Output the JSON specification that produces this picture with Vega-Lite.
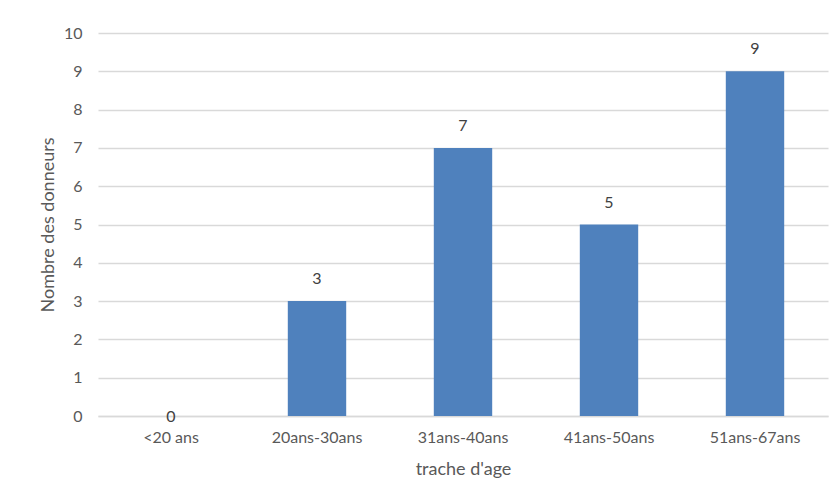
{
  "$schema": "https://vega.github.io/schema/vega-lite/v6.json",
  "autosize": {"type": "none"},
  "width": 730,
  "height": 383,
  "padding": {"left": 98, "top": 33, "right": 7, "bottom": 79},
  "background": "#ffffff",
  "config": {
    "font": "Lato",
    "view": {"stroke": null},
    "axis": {
      "labelFont": "Lato",
      "titleFont": "Lato",
      "labelColor": "#595959",
      "titleColor": "#595959",
      "labelFontSize": 16,
      "titleFontSize": 18,
      "titleFontWeight": "normal",
      "ticks": false
    }
  },
  "data": {
    "values": [
      {"tranche": "<20 ans", "donneurs": 0},
      {"tranche": "20ans-30ans", "donneurs": 3},
      {"tranche": "31ans-40ans", "donneurs": 7},
      {"tranche": "41ans-50ans", "donneurs": 5},
      {"tranche": "51ans-67ans", "donneurs": 9}
    ]
  },
  "encoding": {
    "x": {
      "field": "tranche",
      "type": "nominal",
      "sort": null,
      "scale": {"paddingInner": 0.6, "paddingOuter": 0.3},
      "axis": {
        "title": "trache d'age",
        "labelAngle": 0,
        "labelPadding": 13,
        "titlePadding": 15,
        "domain": true,
        "domainColor": "#d9d9d9",
        "domainWidth": 1.5
      }
    },
    "y": {
      "field": "donneurs",
      "type": "quantitative",
      "scale": {"domain": [0, 10], "nice": false},
      "axis": {
        "title": "Nombre des donneurs",
        "values": [0, 1, 2, 3, 4, 5, 6, 7, 8, 9, 10],
        "format": "d",
        "domain": false,
        "grid": true,
        "gridColor": "#d9d9d9",
        "gridWidth": 1.5,
        "labelPadding": 16,
        "titlePadding": 6
      }
    }
  },
  "layer": [
    {"mark": {"type": "bar", "color": "#4f81bd"}},
    {
      "transform": [{"filter": "datum.donneurs > 0"}],
      "mark": {"type": "text", "baseline": "middle", "dy": -22, "fontSize": 16, "color": "#404040"},
      "encoding": {"text": {"field": "donneurs", "type": "quantitative"}}
    },
    {
      "transform": [{"filter": "datum.donneurs == 0"}],
      "mark": {"type": "text", "baseline": "middle", "dy": 1, "fontSize": 16, "color": "#404040"},
      "encoding": {"text": {"field": "donneurs", "type": "quantitative"}}
    }
  ]
}
